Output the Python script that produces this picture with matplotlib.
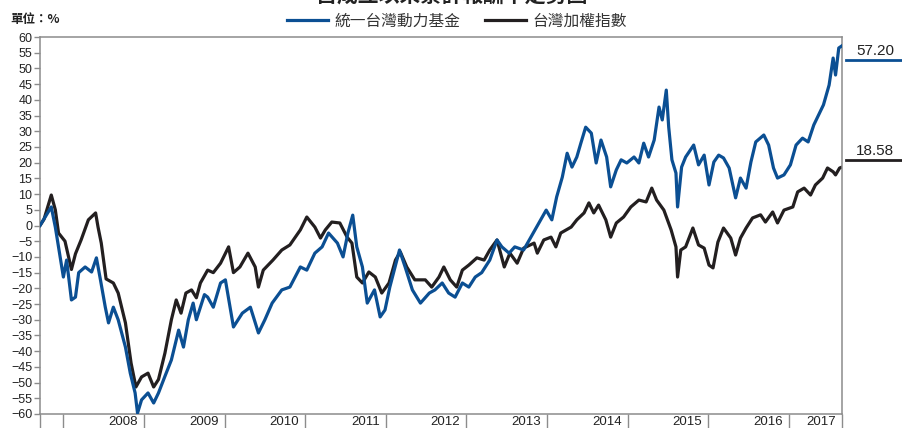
import matplotlib
matplotlib.use('Agg')
import matplotlib.pyplot as plt
from matplotlib.lines import Line2D

plt.rcParams['font.family'] = ['Liberation Sans', 'Noto Sans CJK TC', 'DejaVu Sans']

# 累計報酬率 (%)，x 為年份（小數）
fund_x = [2007.71, 2007.85, 2007.90, 2007.94, 2008.00, 2008.04, 2008.10, 2008.15, 2008.19, 2008.27,
          2008.35, 2008.41, 2008.46, 2008.52, 2008.56, 2008.62, 2008.68, 2008.77, 2008.83, 2008.89,
          2008.92, 2008.97, 2009.05, 2009.12, 2009.18, 2009.26, 2009.34, 2009.43, 2009.49, 2009.55,
          2009.61, 2009.65, 2009.70, 2009.75, 2009.79, 2009.86, 2009.95, 2010.01, 2010.11, 2010.22,
          2010.32, 2010.42, 2010.50, 2010.59, 2010.71, 2010.81, 2010.94, 2011.02, 2011.12, 2011.21,
          2011.29, 2011.40, 2011.47, 2011.53, 2011.59, 2011.64, 2011.71, 2011.77, 2011.86, 2011.93,
          2011.99, 2012.05, 2012.17, 2012.24, 2012.33, 2012.43, 2012.54, 2012.61, 2012.70, 2012.78,
          2012.86, 2012.95, 2013.03, 2013.11, 2013.19, 2013.29, 2013.38, 2013.44, 2013.53, 2013.60,
          2013.71, 2013.80, 2013.90, 2013.99, 2014.06, 2014.12, 2014.19, 2014.25, 2014.31, 2014.37,
          2014.42, 2014.48, 2014.55, 2014.61, 2014.67, 2014.74, 2014.79, 2014.86, 2014.92, 2014.99,
          2015.08, 2015.14, 2015.20, 2015.26, 2015.33, 2015.39, 2015.43, 2015.48, 2015.51, 2015.55,
          2015.60, 2015.62, 2015.67, 2015.72, 2015.82, 2015.88, 2015.95, 2016.01, 2016.07, 2016.13,
          2016.19, 2016.26, 2016.34, 2016.40, 2016.47, 2016.53, 2016.59, 2016.69, 2016.75, 2016.81,
          2016.86, 2016.94, 2017.02, 2017.09, 2017.17, 2017.24, 2017.31, 2017.37, 2017.43, 2017.50,
          2017.55, 2017.58, 2017.62, 2017.66]
fund_y = [0.0, 5.9, -0.5, -6.8, -16.4, -11.0, -23.7, -22.8, -15.0, -13.2,
          -14.8, -10.3, -17.3, -26.0, -31.0, -26.0, -30.0, -38.7, -47.0, -53.3,
          -59.7, -55.5, -53.3, -56.5, -53.3, -48.0, -42.8, -33.3, -38.7, -30.0,
          -24.7, -30.0, -26.0, -22.0, -22.8, -26.0, -18.3, -17.3, -32.3, -27.9,
          -26.0, -34.2, -30.0, -24.7, -20.5, -19.6, -13.2, -14.2, -8.8, -6.8,
          -2.4, -5.6, -10.0, -2.4, 3.3, -6.8, -13.2, -24.7, -20.5, -29.1,
          -26.9, -19.6, -7.8, -13.2, -20.5, -24.7, -21.5, -20.5, -18.3, -21.5,
          -22.8, -18.3, -19.6, -16.4, -15.0, -11.0, -4.6, -6.8, -8.8, -6.8,
          -7.8, -3.7, 0.8, 4.9, 1.8, 9.1, 15.4, 23.0, 18.6, 21.8,
          26.2, 31.3, 29.4, 19.9, 27.2, 21.8, 12.3, 17.7, 20.9, 19.9,
          21.8, 19.9, 26.2, 21.8, 27.2, 37.7, 33.6, 43.1, 31.3, 20.9,
          16.7, 5.9, 18.6, 21.8, 25.6, 19.3, 22.4, 12.9, 20.2, 22.4,
          21.5, 18.3, 8.8, 15.1, 11.9, 20.2, 26.6, 28.8, 25.6, 18.3,
          15.1, 16.1, 19.3, 25.6, 27.8, 26.6, 32.0, 35.2, 38.4, 44.7,
          53.3, 47.9, 56.5, 57.2]

index_x = [2007.71, 2007.76, 2007.85, 2007.90, 2007.94, 2008.02, 2008.10, 2008.15, 2008.22, 2008.31,
           2008.40, 2008.43, 2008.47, 2008.53, 2008.62, 2008.68, 2008.77, 2008.84, 2008.90, 2008.97,
           2009.05, 2009.12, 2009.18, 2009.26, 2009.34, 2009.40, 2009.46, 2009.52, 2009.59, 2009.65,
           2009.70, 2009.79, 2009.86, 2009.95, 2010.05, 2010.11, 2010.19, 2010.29, 2010.38, 2010.42,
           2010.48, 2010.60, 2010.71, 2010.81, 2010.94, 2011.02, 2011.12, 2011.19, 2011.25, 2011.33,
           2011.43, 2011.52, 2011.58, 2011.64, 2011.71, 2011.79, 2011.87, 2011.95, 2012.04, 2012.12,
           2012.18, 2012.26, 2012.36, 2012.49, 2012.57, 2012.66, 2012.72, 2012.80, 2012.88, 2012.95,
           2013.03, 2013.13, 2013.22, 2013.29, 2013.38, 2013.47, 2013.54, 2013.63, 2013.71, 2013.84,
           2013.88, 2013.96, 2014.05, 2014.11, 2014.17, 2014.30, 2014.37, 2014.46, 2014.52, 2014.58,
           2014.64, 2014.73, 2014.79, 2014.86, 2014.95, 2015.04, 2015.14, 2015.23, 2015.30, 2015.36,
           2015.45, 2015.54, 2015.60, 2015.62, 2015.66, 2015.72, 2015.81, 2015.88, 2015.95, 2016.01,
           2016.06, 2016.12, 2016.19, 2016.28, 2016.34, 2016.40, 2016.47, 2016.55, 2016.65, 2016.71,
           2016.80, 2016.86, 2016.94, 2017.05, 2017.11, 2017.19, 2017.27, 2017.33, 2017.42, 2017.48,
           2017.55, 2017.58, 2017.63, 2017.66]
index_y = [0.0, 2.0, 9.7, 5.0, -2.4, -5.0, -14.0, -9.0, -4.6, 1.8,
           4.0, -0.5, -5.6, -17.0, -18.3, -21.5, -31.0, -43.8, -51.4, -48.2,
           -47.0, -51.4, -49.0, -40.6, -30.0, -23.7, -27.9, -21.5, -20.5, -23.0,
           -18.3, -14.2, -15.0, -12.0, -6.8, -15.0, -13.2, -8.8, -13.2, -19.6,
           -14.2, -11.0, -7.8, -6.2, -1.4, 2.7, -0.5, -4.0, -1.4, 1.1,
           0.8, -3.7, -5.6, -16.4, -18.3, -14.8, -16.4, -21.5, -18.3, -11.0,
           -8.4, -13.2, -17.3, -17.3, -19.6, -16.4, -13.2, -17.3, -19.6, -14.2,
           -12.6, -10.3, -11.0, -7.8, -4.6, -13.2, -8.8, -12.0, -7.2, -5.6,
           -8.8, -4.6, -3.7, -6.8, -2.4, -0.5, 1.8, 4.0, 7.2, 4.0,
           6.5, 1.8, -3.7, 0.8, 2.7, 5.9, 8.1, 7.5, 11.9, 8.1,
           4.9, -1.4, -6.8, -16.4, -7.8, -6.8, -0.8, -6.2, -7.2, -12.6,
           -13.5, -5.3, -0.8, -4.0, -9.4, -4.0, -0.8, 2.4, 3.4, 1.1,
           4.3, 0.8, 4.9, 5.9, 10.7, 11.9, 9.7, 12.9, 15.1, 18.3,
           17.1, 16.1, 18.3, 18.58]

years = [2008, 2009, 2010, 2011, 2012, 2013, 2014, 2015, 2016, 2017]
fund_name = '統一台灣動力基金'
index_name = '台灣加權指數'
fund_last = '57.20'
index_last = '18.58'

blue = '#0b4f93'
black = '#231f20'
gray = '#8c8c8c'

fig = plt.figure(figsize=(9.02, 4.28), dpi=100)
ax = fig.add_axes([40 / 902, 1 - 414 / 428, 802 / 902, 377 / 428])

xmin, xmax = fund_x[0], fund_x[-1]
ax.plot(index_x, index_y, color=black, lw=2.3, label=index_name, zorder=2)
ax.plot(fund_x, fund_y, color=blue, lw=2.3, label=fund_name, zorder=3)

ax.set_xlim(xmin, xmax)
ax.set_ylim(-60, 60)
ax.set_yticks(range(-60, 61, 5))
ax.set_xticks([xmin] + years + [xmax])
ax.set_xticklabels([])
ax.tick_params(axis='y', length=4, width=1, color=gray, pad=1.5, labelsize=9, labelcolor='#222222')
ax.tick_params(axis='x', length=10.5, width=1, color=gray)
for s in ax.spines.values():
    s.set_color(gray)
    s.set_linewidth(1.1)

for y in years:
    right = min(y + 1, xmax) - 0.075
    ax.text(right, -0.004, str(y), transform=ax.get_xaxis_transform(),
            ha='right', va='top', fontsize=9.5, color='#222222')

# 圖例
handles = [Line2D([], [], color=blue, lw=2.3), Line2D([], [], color=black, lw=2.3)]
fig.legend(handles, [fund_name, index_name], loc='center', bbox_to_anchor=(457 / 902, 1 - 21 / 428),
           ncol=2, frameon=False, handlelength=2.6, handletextpad=0.4, columnspacing=1.6,
           prop={'family': ['Noto Sans CJK TC'], 'size': 11.3}, labelcolor='#333333')

fig.text(10 / 902, 1 - 20 / 428, '單位：%', ha='left', va='center', fontsize=9,
         family=['Noto Sans CJK TC'], fontweight='bold', color='#222222')
fig.text(452 / 902, 1.008, '自成立以來累計報酬率走勢圖', ha='center', va='center', fontsize=15,
         family=['Noto Sans CJK TC'], fontweight='bold', color='#222222')

# 期末數值
for txt, col, py in [(fund_last, blue, 60), (index_last, black, 160)]:
    fig.add_artist(Line2D([846 / 902, 1.0], [1 - py / 428] * 2, color=col, lw=2))
    fig.text(875 / 902, 1 - (py - 2) / 428, txt, ha='center', va='bottom', fontsize=11, color='#222222')

fig.savefig('out.png', dpi=100)
